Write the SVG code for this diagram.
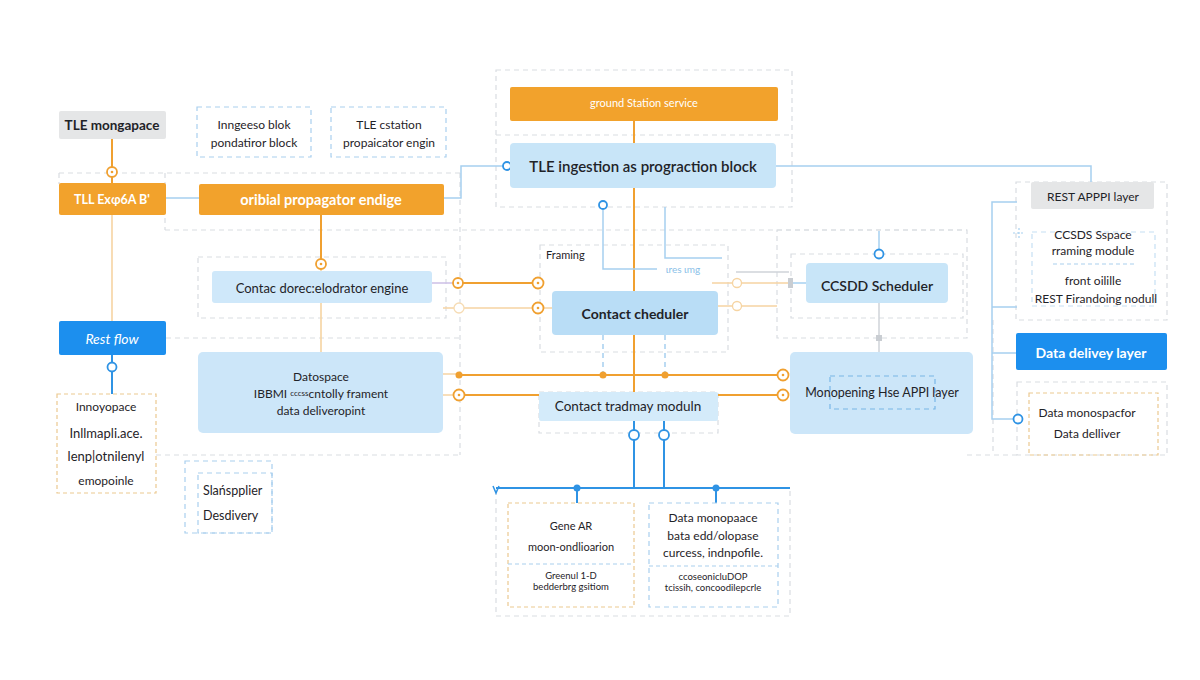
<svg xmlns="http://www.w3.org/2000/svg" width="1200" height="680" viewBox="0 0 1200 680">
<defs>
<style>
.t{font-family:Lato,"Open Sans","Liberation Sans",sans-serif;fill:#1f2328;text-anchor:middle;dominant-baseline:central}
.w{fill:#ffffff}
.b{font-weight:bold}
.fr{fill:none;stroke:#d9dde2;stroke-width:1.2;stroke-dasharray:5 4}
.frb{fill:none;stroke:#a9cfee;stroke-width:1.2;stroke-dasharray:5 4}
.fro{fill:none;stroke:#ecc990;stroke-width:1.2;stroke-dasharray:4 3}
.or{fill:#f2a22c}
.lb{fill:#c8e5f8}
.bb{fill:#1c8fee}
.gr{fill:#e5e6e7}
.co{fill:none;stroke:#f0a030;stroke-width:2}
.cl{fill:none;stroke:#f6d4a2;stroke-width:1.6}
.cb{fill:none;stroke:#2f93e4;stroke-width:2}
.cbl{fill:none;stroke:#a6d0f0;stroke-width:1.5}
.cg{fill:none;stroke:#cfd3d8;stroke-width:1.5}
.ro{fill:#fff;stroke:#f0a030;stroke-width:1.8}
.rb{fill:#fff;stroke:#2f93e4;stroke-width:1.8}
</style>
</defs>
<rect width="1200" height="680" fill="#ffffff"/>

<g id="frames">
<path class="fr" d="M59,173 H460 M59,173 V184 M165,173 V230 M165,230 H967 M460,173 V455 M166,338 H460 M156,455 H460"/>
<rect class="fr" x="496" y="70" width="296" height="137"/>
<path class="fr" d="M496,135 H792"/>
<rect class="fr" x="198" y="257" width="248" height="61"/>
<rect class="fr" x="540" y="245" width="188" height="107"/>
<rect class="fr" x="777" y="230" width="190" height="108"/>
<rect class="fr" x="791" y="254" width="172" height="64"/>
<rect class="fr" x="1016" y="182" width="151" height="138"/>
<path class="fr" d="M993,320 V455 M967,455 H1017"/>
<rect class="fr" x="1017" y="382" width="150" height="73"/>
<rect class="fr" x="539" y="392" width="179" height="41"/>
<rect class="fr" x="496" y="488" width="294" height="128"/>
<rect class="frb" x="185" y="461" width="87" height="72"/>
</g>

<g id="connectors">
<path class="co" d="M112,139 V167 M112,177 V184"/>
<path class="cl" d="M112,215 V321"/>
<path class="cbl" d="M166,198 H199 M444,198 H461 V166 H503"/>
<path class="cb" d="M112,355 V363 M112,371 V394"/>
<path class="co" d="M321,215 V259"/>
<path class="cl" d="M321,269 V271 M321,303 V352"/>
<path d="M432,283 H453" fill="none" stroke="#cdbfe6" stroke-width="1.5"/>
<path class="co" d="M463,283 H533"/>
<path class="cl" d="M443,308 H454 M464,308 H533 M543,308 H552"/>
<path class="co" d="M634,121 V143 M634,188 V392"/>
<path class="cbl" d="M603,210 V269 H657 M665,207 V258 H722"/>
<path class="cbl" d="M603,335 V375 M665,335 V375" stroke-dasharray="5 4"/>
<path class="cg" d="M736,272 H789"/>
<path class="cl" d="M712,283 H732 M742,283 H789 M718,306 H732 M742,306 H777"/>
<rect x="788" y="278" width="5" height="10" fill="#c9cdd2"/>
<path class="cbl" d="M793,283 H806"/>
<path class="cbl" d="M879,231 V249"/>
<path class="cg" d="M879,303 V352"/>
<rect x="876" y="335" width="6" height="6" fill="#c9cdd2"/>
<path class="cl" d="M443,374 H459 M443,395 H454"/>
<path class="co" d="M459,375 H778 M464,395 H778"/>
<circle cx="459" cy="375" r="3.5" fill="#f0a030"/>
<circle cx="603" cy="375" r="3.5" fill="#f0a030"/>
<circle cx="665" cy="375" r="3.5" fill="#f0a030"/>
<path class="cb" d="M634,421 V430 M634,440 V488 M664,421 V430 M664,440 V488"/>
<path class="cb" d="M496,488 H790 M577,488 V503 M716,488 V503"/>
<path d="M493,486 L496,493 L499,486" fill="none" stroke="#2f93e4" stroke-width="1.5"/>
<circle cx="577" cy="488" r="3.5" fill="#2f93e4"/>
<circle cx="716" cy="488" r="3.5" fill="#2f93e4"/>
<path class="cbl" d="M776,166 H1091 V182"/>
<path class="cbl" d="M1017,202 H992 V419 H1013 M992,307 H1017 M992,353 H1016"/>
<path d="M1013,233 H1025 M1019,228 V238" stroke="#a6d0f0" stroke-width="1.2" stroke-dasharray="2 2"/>
<circle class="ro" cx="112" cy="172" r="5"/><circle cx="112" cy="172" r="1.3" fill="#f0a030"/>
<circle class="rb" cx="507" cy="166" r="4"/>
<circle class="rb" cx="112" cy="367" r="4.5"/>
<circle class="ro" cx="321" cy="264" r="5"/><circle cx="321" cy="264" r="1.3" fill="#f0a030"/>
<circle class="ro" cx="458" cy="283" r="5"/><circle cx="458" cy="283" r="1.3" fill="#f0a030"/>
<circle class="ro" cx="538" cy="283" r="5.5"/><circle cx="538" cy="283" r="1.3" fill="#f0a030"/>
<circle cx="459" cy="308" r="5" fill="#fff" stroke="#f6dcb4" stroke-width="1.3"/>
<circle class="ro" cx="538" cy="308" r="5.5"/><circle cx="538" cy="308" r="1.3" fill="#f0a030"/>
<circle class="rb" cx="603" cy="205" r="4"/>
<circle cx="737" cy="283" r="4.5" fill="#fff" stroke="#f6d4a2" stroke-width="1.3"/>
<circle cx="737" cy="306" r="4.5" fill="#fff" stroke="#f6d4a2" stroke-width="1.3"/>
<circle class="rb" cx="879" cy="254" r="4.5"/>
<circle class="ro" cx="459" cy="395" r="5.5"/><circle cx="459" cy="395" r="1.3" fill="#f0a030"/>
<circle class="ro" cx="783" cy="375" r="5.5"/><circle cx="783" cy="375" r="1.3" fill="#f0a030"/>
<circle class="ro" cx="783" cy="395" r="5.5"/><circle cx="783" cy="395" r="1.3" fill="#f0a030"/>
<circle class="rb" cx="634" cy="435" r="5"/>
<circle class="rb" cx="664" cy="435" r="5"/>
<circle class="rb" cx="1018" cy="419" r="4.5"/>
</g>

<g id="n-tle-mongapace">
<rect class="gr" x="59" y="111" width="107" height="28" rx="2"/>
<text class="t b" x="112" y="125" font-size="13.5">TLE mongapace</text>
</g>
<g id="n-inngeeso">
<rect class="frb" x="197" y="107" width="114" height="50"/>
<text class="t" x="254" y="124" font-size="12">Inngeeso blok</text>
<text class="t" x="254" y="142" font-size="12">pondatiror block</text>
</g>
<g id="n-tle-cstation">
<rect class="frb" x="331" y="107" width="115" height="50"/>
<text class="t" x="389" y="124" font-size="12">TLE  cstation</text>
<text class="t" x="389" y="142" font-size="12">propaicator engin</text>
</g>
<g id="n-tle-exg">
<rect class="or" x="59" y="183" width="107" height="32" rx="2"/>
<text class="t w b" x="112" y="199" font-size="12.5">TLL  Exφ6A B'</text>
</g>
<g id="n-oribial">
<rect class="or" x="199" y="184" width="245" height="31" rx="2"/>
<text class="t w b" x="321" y="199" font-size="14.5">oribial propagator  endige</text>
</g>
<g id="n-ground">
<rect class="or" x="510" y="87" width="268" height="34" rx="2"/>
<text class="t w" x="644" y="102" font-size="11">ground Station service</text>
</g>
<g id="n-tle-ingestion">
<rect class="lb" x="510" y="143" width="266" height="45" rx="4"/>
<text class="t" x="643" y="166" font-size="15" font-weight="600">TLE ingestion as prograction block</text>
</g>
<g id="n-framing">
<text class="t" x="546" y="254" font-size="11" style="text-anchor:start">Framing</text>
<text class="t" x="683" y="269" font-size="10" style="fill:#8bbfe8">ιres ιmg</text>
</g>
<g id="n-contac-dorec">
<rect x="212" y="271" width="220" height="32" rx="3" fill="#cfe8fa"/>
<text class="t" x="322" y="288" font-size="13">Contac dorec:elodrator engine</text>
</g>
<g id="n-contact-cheduler">
<rect x="552" y="291" width="166" height="44" rx="4" fill="#b9ddf6"/>
<text class="t b" x="635" y="313" font-size="14">Contact cheduler</text>
</g>
<g id="n-ccsdd">
<rect class="lb" x="806" y="263" width="142" height="40" rx="4"/>
<text class="t" x="877" y="285" font-size="14" font-weight="600">CCSDD Scheduler</text>
</g>
<g id="n-rest-flow">
<rect class="bb" x="59" y="321" width="107" height="34" rx="2"/>
<text class="t w" x="112" y="338" font-size="14" font-style="italic">Rest flow</text>
</g>
<g id="n-datospace">
<rect x="198" y="352" width="245" height="81" rx="5" fill="#cce6f9"/>
<text class="t" x="321" y="376" font-size="12">Datospace</text>
<text class="t" x="321" y="393" font-size="12">IBBMI  <tspan font-size="8">cccss</tspan>cntolly frament</text>
<text class="t" x="321" y="410" font-size="12">data deliveropint</text>
</g>
<g id="n-contact-tradmay">
<rect x="539" y="392" width="179" height="29" rx="2" fill="#d4ebfa"/>
<text class="t" x="628" y="406" font-size="13.5">Contact tradmay moduln</text>
</g>
<g id="n-monopening">
<rect x="790" y="352" width="183" height="82" rx="5" fill="#cce6f9"/>
<rect class="frb" x="830" y="376" width="105" height="33" style="stroke:#78b6e6"/>
<text class="t" x="882" y="392" font-size="12.5">Monopening Hse APPI  layer</text>
</g>
<g id="n-innoyopace">
<rect class="fro" x="57" y="394" width="99" height="99"/>
<text class="t" x="106" y="406" font-size="12">Innoyopace</text>
<text class="t" x="106" y="433" font-size="13">Inllmapli.ace.</text>
<text class="t" x="106" y="456" font-size="13">lenp|otnilenyl</text>
<text class="t" x="106" y="480" font-size="12">emopoinle</text>
</g>
<g id="n-slatspplier">
<rect class="frb" x="198" y="473" width="74" height="60"/>
<text class="t" x="203" y="490" font-size="12.5" style="text-anchor:start">Slańspplier</text>
<text class="t" x="203" y="515" font-size="12.5" style="text-anchor:start">Desdivery</text>
</g>
<g id="n-rest-api">
<rect class="gr" x="1031" y="182" width="123" height="27" rx="2"/>
<text class="t" x="1093" y="196" font-size="12">REST APPPI layer</text>
</g>
<g id="n-ccsds">
<rect class="frb" x="1032" y="232" width="123" height="74" style="stroke:#c6e0f3"/>
<text class="t" x="1093" y="234" font-size="12">CCSDS Sspace</text>
<text class="t" x="1093" y="250" font-size="12">rraming module</text>
<path d="M1053,264 H1135" stroke="#a9cfee" stroke-width="1.2" stroke-dasharray="4 3"/>
<text class="t" x="1093" y="280" font-size="12">front oilille</text>
<text class="t" x="1096" y="298" font-size="12">REST Firandoing nodull</text>
</g>
<g id="n-data-delivery">
<rect class="bb" x="1016" y="333" width="151" height="37" rx="2"/>
<text class="t w b" x="1091" y="352" font-size="14">Data delivey layer</text>
</g>
<g id="n-data-monospacfor">
<rect class="fro" x="1029" y="393" width="129" height="62"/>
<text class="t" x="1087" y="412" font-size="12">Data monospacfor</text>
<text class="t" x="1087" y="433" font-size="12">Data delliver</text>
</g>
<g id="n-gene-ar">
<rect class="fro" x="508" y="503" width="126" height="104"/>
<path d="M508,564 H634" stroke="#a9cfee" stroke-width="1.2" stroke-dasharray="4 3"/>
<text class="t" x="571" y="525" font-size="11">Gene AR</text>
<text class="t" x="571" y="546" font-size="11">moon-ondlioarion</text>
<text class="t" x="571" y="575" font-size="9.5">Greenul  1-D</text>
<text class="t" x="571" y="586" font-size="9.5">bedderbrg gsitiom</text>
</g>
<g id="n-data-monopaace">
<rect class="frb" x="649" y="503" width="129" height="104"/>
<path d="M649,566 H778" stroke="#a9cfee" stroke-width="1.2" stroke-dasharray="4 3"/>
<text class="t" x="713" y="517" font-size="12">Data monopaace</text>
<text class="t" x="713" y="535" font-size="12">bata edd/olopase</text>
<text class="t" x="713" y="552" font-size="12">curcess, indnpofile.</text>
<text class="t" x="713" y="576" font-size="9.5">ccoseonicluDOP</text>
<text class="t" x="713" y="587" font-size="9.5">tcissih, concoodilepcrle</text>
</g>
</svg>
